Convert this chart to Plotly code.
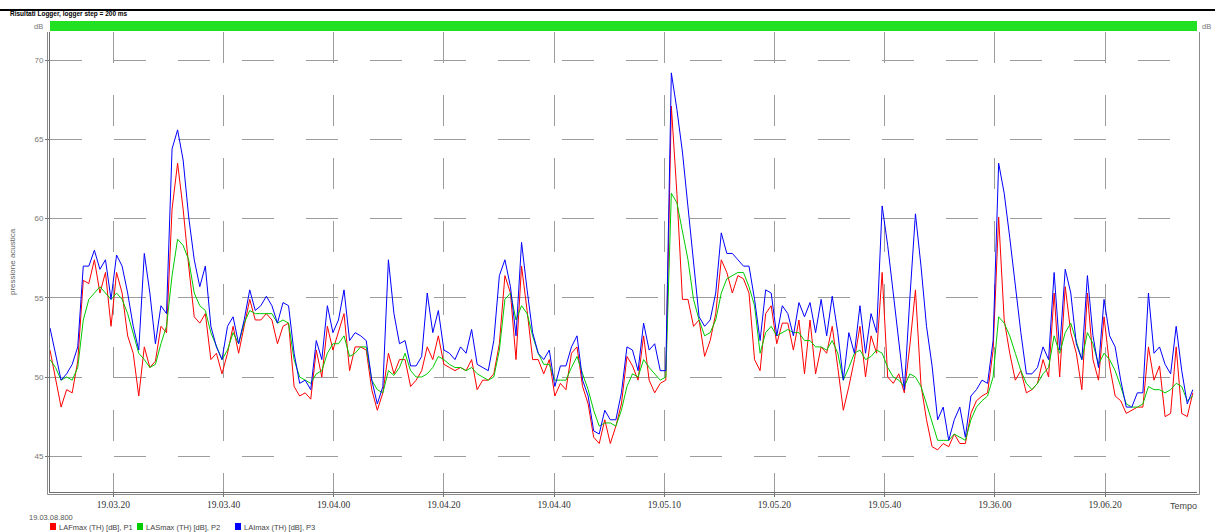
import plotly.graph_objects as go

# ---- data (~1 s resampling) ----
START_S = 8.5      # seconds after 19:03:00 of the first sample
STEP_S = 1.007     # seconds between samples

lafmax_p1 = [
    51.7, 49.8, 48.1, 49.2, 49.0, 51.0, 56.1, 55.9, 57.4, 55.3,
    56.6, 53.2, 56.6, 55.3, 52.6, 51.5, 48.8, 51.9, 50.6, 51.0,
    53.2, 52.8, 60.6, 63.5, 60.6, 57.0, 53.8, 53.4, 54.0, 51.1,
    51.5, 50.2, 51.5, 53.2, 51.5, 53.2, 54.9, 53.6, 53.6, 54.0,
    53.6, 52.1, 53.2, 53.4, 49.4, 48.8, 49.0, 48.6, 51.7, 50.0,
    53.2, 51.7, 52.8, 54.0, 50.4, 51.9, 51.9, 51.7, 49.2, 47.9,
    49.0, 51.5, 50.2, 51.1, 51.1, 49.4, 49.8, 50.4, 51.9, 51.1,
    52.6, 50.8, 50.6, 50.4, 50.6, 50.4, 51.1, 49.2, 49.8, 49.8,
    50.2, 52.1, 56.4, 55.3, 51.1, 57.0, 54.2, 51.1, 51.1, 50.2,
    51.1, 48.8, 49.6, 49.2, 51.5, 51.9, 49.4, 48.3, 46.2, 45.8,
    47.3, 45.8, 46.9, 48.3, 51.3, 50.7, 49.8, 52.6, 49.8, 49.0,
    49.6, 49.8, 67.1, 61.6, 54.9, 54.9, 53.2, 53.6, 51.3, 52.3,
    54.0, 57.4, 56.6, 55.3, 56.4, 56.2, 55.3, 51.1, 50.4, 54.0,
    54.5, 52.1, 53.4, 53.4, 51.7, 53.6, 50.2, 53.6, 50.2, 51.9,
    51.5, 53.2, 50.6, 47.9, 49.4, 51.1, 53.2, 50.0, 52.6, 51.5,
    56.6, 50.0, 49.6, 50.2, 49.0, 52.0, 55.5, 49.5, 47.3, 45.6,
    45.4, 45.8, 45.6, 46.4, 45.8, 45.8, 47.7, 48.5, 48.8, 49.0,
    51.7, 60.1, 53.6, 51.5, 49.8, 50.4, 49.0, 49.2, 49.6, 51.1,
    50.0, 55.3, 50.0, 55.7, 52.8, 51.5, 49.2, 55.3, 51.1, 49.8,
    53.8, 50.7, 48.8, 48.5, 47.7, 47.9, 48.1, 48.1, 51.9, 49.8,
    50.7, 47.5, 47.7, 51.9, 47.7, 47.5, 49.0,
]

lasmax_p2 = [
    51.1, 50.6, 49.8, 50.0, 49.8, 50.6, 53.6, 54.9, 55.3, 55.7,
    55.3, 54.9, 55.3, 54.9, 54.0, 52.8, 51.5, 51.1, 50.6, 50.8,
    52.1, 53.2, 56.4, 58.7, 58.3, 57.4, 55.3, 54.5, 54.2, 52.8,
    51.9, 51.1, 51.7, 52.8, 52.1, 53.4, 54.2, 54.0, 54.0, 54.0,
    54.0, 53.4, 53.6, 53.4, 51.1, 50.0, 49.8, 49.6, 50.2, 50.4,
    51.5, 52.1, 52.1, 52.6, 51.3, 51.5, 51.9, 51.9, 49.8, 49.2,
    49.0, 50.4, 50.1, 50.6, 51.5, 50.4, 50.0, 50.0, 50.2, 50.6,
    51.3, 51.1, 50.8, 50.6, 50.6, 50.4, 50.6, 50.2, 50.0, 49.8,
    50.0, 51.7, 54.9, 55.3, 53.6, 54.5, 54.0, 52.6, 51.5, 50.8,
    50.8, 49.8, 49.8, 49.8, 50.6, 51.3, 50.2, 49.2, 47.9, 46.9,
    47.1, 47.1, 46.9, 47.9, 49.4, 50.2, 50.0, 51.1, 50.6, 50.2,
    49.8, 50.0, 61.6, 61.0, 59.1, 57.4, 54.9, 53.6, 52.6, 52.8,
    53.6, 55.3, 56.2, 56.4, 56.6, 56.6, 55.7, 54.5, 51.5, 52.8,
    53.2, 52.6, 52.8, 53.0, 52.8, 52.8, 52.3, 52.3, 51.9, 51.9,
    51.7, 52.3, 51.5, 49.8, 50.6, 51.5, 51.7, 51.1, 51.3, 51.7,
    51.5, 50.6, 50.0, 49.8, 49.4, 50.2, 50.0, 49.4, 48.3, 47.1,
    46.0, 46.0, 46.0, 46.4, 46.2, 46.0, 47.3, 48.1, 48.5, 48.8,
    50.0, 53.8, 53.4, 52.6, 51.5, 50.4, 49.6, 49.2, 49.6, 50.2,
    50.6, 52.6, 51.5, 52.8, 53.4, 52.3, 51.1, 52.8, 52.1, 50.8,
    51.5, 51.1, 50.4, 49.4, 48.3, 48.1, 48.1, 48.3, 49.4, 49.2,
    49.2, 49.0, 49.2, 49.6, 49.4, 48.5, 48.8,
]

laimax_p3 = [
    53.1, 51.5, 49.8, 50.2, 50.8, 51.9, 57.0, 57.0, 58.0, 56.8,
    57.4, 54.9, 57.7, 57.0, 55.3, 53.2, 51.7, 57.8, 55.3, 52.1,
    54.5, 54.0, 64.4, 65.6, 63.7, 60.1, 57.4, 55.7, 57.0, 53.2,
    51.9, 51.1, 53.2, 53.8, 52.1, 53.6, 55.5, 54.2, 54.5, 55.1,
    54.5, 53.4, 54.7, 54.5, 51.5, 49.6, 49.8, 49.2, 52.3, 51.1,
    54.5, 52.8, 53.6, 55.5, 52.3, 52.8, 52.6, 52.3, 49.8, 48.3,
    49.4, 57.4, 54.0, 52.1, 52.3, 50.7, 50.7, 51.3, 55.3, 52.8,
    54.2, 51.7, 51.5, 51.1, 51.9, 51.5, 53.0, 50.8, 50.6, 50.4,
    52.3, 56.4, 57.4, 55.7, 52.6, 58.5, 55.5, 52.8, 51.5, 51.1,
    51.7, 49.4, 50.7, 50.7, 51.9, 52.6, 49.8, 48.8, 46.6, 46.4,
    47.9, 47.3, 47.3, 49.0, 51.9, 51.7, 50.4, 53.4, 51.7, 52.1,
    50.4, 50.4, 69.2, 66.9, 64.2, 60.8, 57.4, 53.8, 53.2, 53.6,
    55.3, 59.1, 57.8, 57.8, 57.4, 57.0, 57.0, 54.9, 52.3, 55.5,
    55.3, 52.6, 54.5, 54.0, 52.6, 54.7, 53.8, 54.7, 52.8, 54.9,
    52.6, 55.1, 52.8, 49.8, 52.8, 51.5, 54.5, 51.5, 54.0, 52.8,
    60.8, 58.3, 55.3, 52.1, 49.2, 55.0, 60.3, 57.0, 53.2, 50.7,
    47.3, 48.1, 46.0, 47.3, 48.1, 46.2, 48.8, 49.2, 49.8, 49.6,
    52.3, 63.5, 61.6, 58.8, 55.7, 52.8, 50.2, 50.2, 50.6, 51.9,
    51.1, 56.6, 51.7, 56.8, 55.3, 52.1, 51.1, 56.4, 52.6, 50.6,
    54.9, 52.6, 51.9, 49.8, 48.1, 48.1, 49.0, 49.0, 55.3, 51.5,
    51.9, 50.8, 50.2, 53.2, 50.4, 48.3, 49.2,
]

series_names = ["LAFmax (TH) [dB], P1", "LASmax (TH) [dB], P2", "LAImax (TH) [dB], P3"]
series_colors = ["#ff0000", "#00cc00", "#0000ff"]

y_tickvals = [45, 50, 55, 60, 65, 70]
x_tickvals = [20, 40, 60, 80, 100, 120, 140, 160, 180, 200]  # seconds after 19:03:00
x_ticktext = ["19.03.20", "19.03.40", "19.04.00", "19.04.20", "19.04.40",
              "19.05.10", "19.05.20", "19.05.40", "19.36.00", "19.06.20"]

X_RANGE = [8.5, 216.7]
Y_RANGE = [42.74, 71.78]

times = [START_S + i * STEP_S for i in range(len(laimax_p3))]

# ---- layout geometry ----
W, H = 1215, 532
ML, MR, MT, MB = 50, 18, 32, 40
PW, PH = W - ML - MR, H - MT - MB


def px(xpix):
    return (xpix - ML) / PW


def py(ypix):
    return (MT + PH - ypix) / PH


fig = go.Figure()
for vals, name, col in zip([lafmax_p1, lasmax_p2, laimax_p3], series_names, series_colors):
    fig.add_trace(go.Scatter(x=times, y=vals, mode="lines", name=name,
                             line=dict(color=col, width=1), showlegend=False,
                             hoverinfo="skip"))

grid_col = "#9c9c9c"
axis_col = "#6e6e6e"

fig.update_layout(
    width=W, height=H,
    margin=dict(l=ML, r=MR, t=MT, b=MB, autoexpand=False),
    paper_bgcolor="white", plot_bgcolor="white",
    font=dict(family="Liberation Sans, Arial, sans-serif", size=8, color="#555"),
    xaxis=dict(range=X_RANGE, tickvals=x_tickvals, ticktext=x_ticktext,
               ticks="outside", ticklen=4, tickcolor=axis_col,
               showgrid=True, gridcolor=grid_col, gridwidth=1, griddash="31px,32px",
               showline=True, linecolor=axis_col, linewidth=1, mirror=False,
               zeroline=False,
               tickfont=dict(family="Liberation Serif, Times New Roman, serif", size=9.5, color="#333")),
    yaxis=dict(range=Y_RANGE, tickvals=y_tickvals,
               ticks="outside", ticklen=4, tickcolor=axis_col,
               showgrid=True, gridcolor=grid_col, gridwidth=1, griddash="32px,32px",
               showline=True, linecolor=axis_col, linewidth=1,
               zeroline=False,
               tickfont=dict(size=8, color="#777")),
    yaxis2=dict(range=Y_RANGE, tickvals=y_tickvals, overlaying="y", side="right",
                ticks="outside", ticklen=3, tickcolor=axis_col,
                showgrid=False, showline=True, linecolor=axis_col, linewidth=1,
                zeroline=False, tickfont=dict(size=8, color="#777")),
)

shapes = []
# top black rule
shapes.append(dict(type="line", xref="paper", yref="paper",
                   x0=px(0), x1=px(W), y0=py(10), y1=py(10),
                   line=dict(color="black", width=2)))
# green status bar
shapes.append(dict(type="rect", xref="paper", yref="paper",
                   x0=0, x1=1, y0=py(31), y1=py(21),
                   fillcolor="#22e022", line=dict(width=0)))
# double axis lines (outer)
shapes.append(dict(type="line", xref="paper", yref="paper",
                   x0=px(ML - 2.5), x1=px(ML - 2.5), y0=py(MT + PH + 2.5), y1=1,
                   line=dict(color="#8a8a8a", width=1)))
shapes.append(dict(type="line", xref="paper", yref="paper",
                   x0=px(ML - 2.5), x1=px(ML + PW + 2.5), y0=py(MT + PH + 2.5), y1=py(MT + PH + 2.5),
                   line=dict(color="#8a8a8a", width=1)))
shapes.append(dict(type="line", xref="paper", yref="paper",
                   x0=px(ML + PW + 2.5), x1=px(ML + PW + 2.5), y0=py(MT + PH + 2.5), y1=1,
                   line=dict(color="#8a8a8a", width=1)))

# legend swatches
legend_x = [50, 137, 235]
for lx, col in zip(legend_x, series_colors):
    shapes.append(dict(type="rect", xref="paper", yref="paper",
                       x0=px(lx), x1=px(lx + 6), y0=py(530), y1=py(523),
                       fillcolor=col, line=dict(width=0)))

annotations = []
annotations.append(dict(text="<b>Risultati Logger, logger step = 200 ms</b>",
                        xref="paper", yref="paper", x=px(8), y=py(14),
                        xanchor="left", yanchor="middle", showarrow=False,
                        font=dict(size=6.5, color="black")))
annotations.append(dict(text="dB", xref="paper", yref="paper", x=px(38), y=py(27),
                        xanchor="center", yanchor="middle", showarrow=False,
                        font=dict(size=7.5, color="#777")))
annotations.append(dict(text="dB", xref="paper", yref="paper", x=px(1206), y=py(27),
                        xanchor="center", yanchor="middle", showarrow=False,
                        font=dict(size=7.5, color="#777")))
annotations.append(dict(text="pressione acustica", xref="paper", yref="paper",
                        x=px(12), y=0.5, textangle=-90,
                        xanchor="center", yanchor="middle", showarrow=False,
                        font=dict(size=8, color="#666")))
annotations.append(dict(text="Tempo", xref="paper", yref="paper", x=px(1168), y=py(506),
                        xanchor="left", yanchor="middle", showarrow=False,
                        font=dict(size=9, color="#444")))
annotations.append(dict(text="19.03.08.800", xref="paper", yref="paper", x=px(27), y=py(517),
                        xanchor="left", yanchor="middle", showarrow=False,
                        font=dict(size=7.5, color="#555")))
for lx, name in zip(legend_x, series_names):
    annotations.append(dict(text=name, xref="paper", yref="paper", x=px(lx + 7), y=py(527),
                            xanchor="left", yanchor="middle", showarrow=False,
                            font=dict(size=7.5, color="#444")))

fig.update_layout(shapes=shapes, annotations=annotations)

fig.write_html("out.html",
               config={"displayModeBar": False},
               post_script="document.body.style.margin='0';document.body.style.overflow='hidden';")
